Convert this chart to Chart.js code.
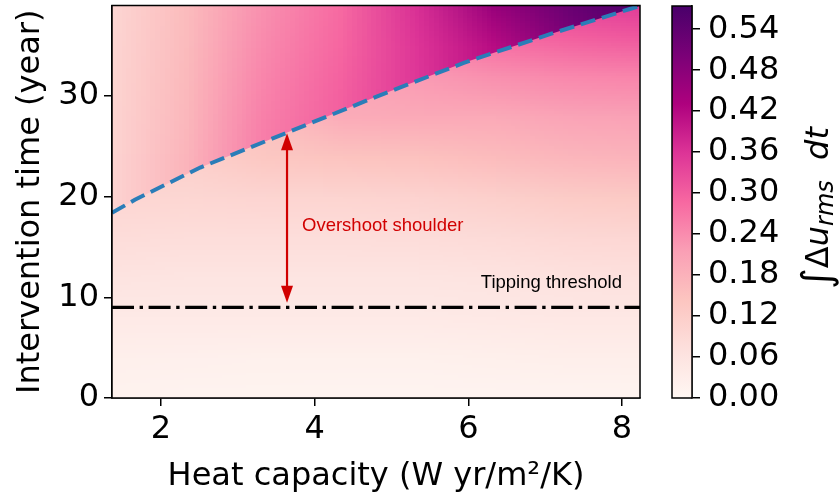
<!DOCTYPE html>
<html>
<head>
<meta charset="utf-8">
<script src="https://cdn.jsdelivr.net/npm/chart.js@4.4.1/dist/chart.umd.min.js"></script>
<style>
  html, body { margin: 0; padding: 0; background: #fff; }
  #wrap { position: relative; width: 840px; height: 497px; overflow: hidden; }
  #main-box { position: absolute; left: 0; top: 0; }
  #cbar-box { position: absolute; left: 640px; top: 0; }
</style>
</head>
<body>
<div id="wrap">
  <div id="main-box"><canvas id="main-chart" width="840" height="497"></canvas></div>
  <div id="cbar-box"><canvas id="cbar-chart" width="200" height="497"></canvas></div>
</div>
<script>
// axes
const xRange = [1.362, 8.234];
const yRange = [0, 39];
const xTicks = [2, 4, 6, 8];
const yTicks = [0, 10, 20, 30];
const cbarMax = 0.574;
const cbarTicks = [0, 0.06, 0.12, 0.18, 0.24, 0.30, 0.36, 0.42, 0.48, 0.54];

// heat map samples, rows listed from bottom to top
const heatX = [1.3, 2.3, 3.3, 4.3, 5.3, 6.3, 7.3, 8.3];
const belowY = [0, 4, 8, 12, 16, 20, 24, 28, 32, 36, 40];
const belowValues = [
  [0.012, 0.010, 0.009, 0.008, 0.008, 0.008, 0.008, 0.009],
  [0.023, 0.021, 0.020, 0.019, 0.019, 0.022, 0.025, 0.026],
  [0.040, 0.039, 0.040, 0.039, 0.039, 0.043, 0.046, 0.047],
  [0.060, 0.057, 0.056, 0.055, 0.055, 0.060, 0.066, 0.068],
  [0.080, 0.077, 0.076, 0.077, 0.080, 0.085, 0.092, 0.095],
  [0.097, 0.096, 0.100, 0.102, 0.105, 0.115, 0.125, 0.130],
  [0.110, 0.115, 0.135, 0.145, 0.150, 0.160, 0.172, 0.178],
  [0.120, 0.130, 0.150, 0.190, 0.195, 0.195, 0.205, 0.210],
  [0.130, 0.145, 0.170, 0.200, 0.220, 0.235, 0.245, 0.250],
  [0.140, 0.160, 0.190, 0.220, 0.250, 0.285, 0.300, 0.310],
  [0.150, 0.170, 0.210, 0.245, 0.280, 0.320, 0.345, 0.360],
];
const aboveY = [19, 23, 27, 31, 35, 39];
const aboveValues = [
  [0.100, 0.175, 0.260, 0.300, 0.355, 0.410, 0.495, 0.550],
  [0.100, 0.175, 0.260, 0.300, 0.355, 0.410, 0.495, 0.550],
  [0.100, 0.170, 0.257, 0.300, 0.355, 0.410, 0.495, 0.550],
  [0.098, 0.167, 0.250, 0.296, 0.355, 0.410, 0.495, 0.550],
  [0.097, 0.163, 0.243, 0.290, 0.357, 0.415, 0.495, 0.550],
  [0.095, 0.160, 0.235, 0.285, 0.365, 0.460, 0.525, 0.570],
];

// overshoot shoulder (dashed) and tipping threshold
const shoulderX = [1.362, 1.66, 2.51, 3.65, 4.79, 5.94, 7.08, 8.08, 8.234];
const shoulderY = [18.4, 19.7, 22.9, 26.4, 29.9, 33.3, 36.2, 38.6, 38.95];
const thresholdY = 9.0;
const arrowX = 3.64;
const arrowY = [9.47, 26.3];

const shoulderLabel = { text: 'Overshoot shoulder', x: 3.835, y: 17.1 };
const thresholdLabel = { text: 'Tipping threshold', x: 8.0, y: 11.4 };

const RED = '#d10000';
const rdpuStops = ['#fff7f3', '#fde0dd', '#fcc5c0', '#fa9fb5', '#f768a1', '#dd3497', '#ae017e', '#7a0177', '#49006a'];
const rdpuRgb = rdpuStops.map((h) => [1, 3, 5].map((k) => parseInt(h.slice(k, k + 2), 16)));

Chart.defaults.font.family = '"DejaVu Sans", sans-serif';
Chart.defaults.color = '#000';

function rdpu(v) {
  const t = Math.min(Math.max(v / cbarMax, 0), 1) * (rdpuRgb.length - 1);
  const i = Math.min(Math.floor(t), rdpuRgb.length - 2);
  const f = t - i;
  return rdpuRgb[i].map((c, k) => Math.round(c + (rdpuRgb[i + 1][k] - c) * f));
}

function fieldImage(values) {
  const rows = values.length;
  const cols = values[0].length;
  const off = document.createElement('canvas');
  off.width = cols;
  off.height = rows;
  const octx = off.getContext('2d');
  const img = octx.createImageData(cols, rows);
  values.forEach((row, r) => row.forEach((v, c) => {
    const i = ((rows - 1 - r) * cols + c) * 4;
    const rgb = rdpu(v);
    img.data[i] = rgb[0];
    img.data[i + 1] = rgb[1];
    img.data[i + 2] = rgb[2];
    img.data[i + 3] = 255;
  }));
  octx.putImageData(img, 0, 0);
  return off;
}

function drawField(chart, values, ys) {
  const { ctx, scales: { x, y } } = chart;
  const img = fieldImage(values);
  const x0 = x.getPixelForValue(heatX[0]);
  const x1 = x.getPixelForValue(heatX[heatX.length - 1]);
  const y0 = y.getPixelForValue(ys[ys.length - 1]);
  const y1 = y.getPixelForValue(ys[0]);
  ctx.imageSmoothingEnabled = true;
  ctx.imageSmoothingQuality = 'low';
  ctx.drawImage(img, 0.5, 0.5, img.width - 1, img.height - 1, x0, y0, x1 - x0, y1 - y0);
}

const heatPlugin = {
  id: 'heat',
  beforeDatasetsDraw(chart) {
    const { ctx, chartArea: a, scales: { x, y } } = chart;
    ctx.save();
    ctx.beginPath();
    ctx.rect(a.left, a.top, a.right - a.left, a.bottom - a.top);
    ctx.clip();
    drawField(chart, belowValues, belowY);

    // the field above the shoulder is cut along the dashed curve
    ctx.beginPath();
    shoulderX.forEach((v, i) => ctx.lineTo(x.getPixelForValue(v), y.getPixelForValue(shoulderY[i])));
    ctx.lineTo(a.right + 1, a.top - 1);
    ctx.lineTo(a.left - 1, a.top - 1);
    ctx.closePath();
    ctx.clip();
    drawField(chart, aboveValues, aboveY);
    ctx.restore();
  },
};

function drawHead(ctx, px, tip, dir) {
  ctx.beginPath();
  ctx.moveTo(px, tip);
  ctx.lineTo(px - 6, tip + dir * 17);
  ctx.lineTo(px + 6, tip + dir * 17);
  ctx.closePath();
  ctx.fill();
}

const notesPlugin = {
  id: 'notes',
  afterDatasetsDraw(chart) {
    const { ctx, chartArea: a, scales: { x, y } } = chart;
    const px = x.getPixelForValue(arrowX);
    const low = y.getPixelForValue(arrowY[0]);
    const high = y.getPixelForValue(arrowY[1]);
    ctx.save();
    ctx.strokeStyle = RED;
    ctx.fillStyle = RED;
    ctx.lineWidth = 2.2;
    ctx.beginPath();
    ctx.moveTo(px, low - 14);
    ctx.lineTo(px, high + 14);
    ctx.stroke();
    drawHead(ctx, px, low, -1);
    drawHead(ctx, px, high, 1);

    ctx.font = '18.5px "Liberation Sans", Arial, sans-serif';
    ctx.textBaseline = 'middle';
    ctx.textAlign = 'left';
    ctx.fillText(shoulderLabel.text, x.getPixelForValue(shoulderLabel.x), y.getPixelForValue(shoulderLabel.y));
    ctx.fillStyle = '#000';
    ctx.textAlign = 'right';
    ctx.fillText(thresholdLabel.text, x.getPixelForValue(thresholdLabel.x), y.getPixelForValue(thresholdLabel.y));

    ctx.strokeStyle = '#000';
    ctx.lineWidth = 1.5;
    ctx.strokeRect(a.left, a.top, a.right - a.left, a.bottom - a.top);
    ctx.restore();
  },
};

function fixTicks(list) {
  return (scale) => {
    scale.ticks = list.map((v) => ({ value: v }));
  };
}

function fitBox(size, horizontal) {
  return (scale) => {
    if (horizontal) scale.height = size;
    else scale.width = size;
    scale.paddingTop = 0;
    scale.paddingBottom = 0;
    scale.paddingLeft = 0;
    scale.paddingRight = 0;
  };
}

const axisGrid = { drawOnChartArea: false, drawTicks: true, tickLength: 8, color: '#000', lineWidth: 1.5 };
const axisBorder = { display: true, color: '#000', width: 1.5 };
const tickFont = { size: 32, lineHeight: 1.2 };

new Chart(document.getElementById('main-chart'), {
  type: 'scatter',
  data: {
    datasets: [
      {
        data: shoulderX.map((v, i) => ({ x: v, y: shoulderY[i] })),
        showLine: true,
        borderColor: '#2a7db8',
        borderWidth: 4,
        borderDash: [15, 7],
        pointRadius: 0,
        clip: 0,
      },
      {
        data: xRange.map((v) => ({ x: v, y: thresholdY })),
        showLine: true,
        borderColor: '#000',
        borderWidth: 3.3,
        borderDash: [22, 5.6, 3.4, 5.6],
        pointRadius: 0,
        clip: 0,
      },
    ],
  },
  options: {
    responsive: false,
    animation: false,
    devicePixelRatio: 1,
    events: [],
    layout: { padding: { left: 0, top: 5.5, right: 200, bottom: 0 } },
    plugins: { legend: { display: false }, tooltip: { enabled: false } },
    scales: {
      x: {
        type: 'linear',
        min: xRange[0],
        max: xRange[1],
        afterBuildTicks: fixTicks(xTicks),
        afterFit: fitBox(99, true),
        grid: axisGrid,
        border: axisBorder,
        ticks: { font: tickFont, padding: 4, maxRotation: 0, autoSkip: false },
        title: {
          display: true,
          text: 'Heat capacity (W yr/m²/K)',
          font: { size: 32, lineHeight: 1 },
          padding: { top: 0, bottom: 4 },
        },
      },
      y: {
        type: 'linear',
        min: yRange[0],
        max: yRange[1],
        afterBuildTicks: fixTicks(yTicks),
        afterFit: fitBox(112, false),
        grid: axisGrid,
        border: axisBorder,
        ticks: { font: tickFont, padding: 5, autoSkip: false },
        title: {
          display: true,
          text: 'Intervention time (year)',
          font: { size: 32, lineHeight: 1 },
          padding: { top: 15, bottom: 0 },
        },
      },
    },
  },
  plugins: [heatPlugin, notesPlugin],
});

function drawCbarLabel(ctx) {
  const parts = [
    ['∫', '40px "DejaVu Sans"', 2],
    ['Δ', '32px "DejaVu Sans"', 0],
    ['u', 'italic 32px "DejaVu Sans"', 0],
    ['rms', 'italic 24px "DejaVu Sans"', 5],
    ['  ', '32px "DejaVu Sans"', 0],
    ['dt', 'italic 32px "DejaVu Sans"', 0],
  ];
  let total = 0;
  parts.forEach((p) => {
    ctx.font = p[1];
    total += ctx.measureText(p[0]).width;
  });
  ctx.save();
  ctx.fillStyle = '#000';
  ctx.textBaseline = 'alphabetic';
  ctx.translate(188, 208 + total / 2);
  ctx.rotate(-Math.PI / 2);
  let cx = 0;
  parts.forEach(([t, f, dy]) => {
    ctx.font = f;
    ctx.fillText(t, cx, dy);
    cx += ctx.measureText(t).width;
  });
  ctx.restore();
}

const cbarPlugin = {
  id: 'cbar',
  beforeDatasetsDraw(chart) {
    const { ctx, chartArea: a } = chart;
    const grad = ctx.createLinearGradient(0, a.bottom, 0, a.top);
    rdpuStops.forEach((c, i) => grad.addColorStop(i / (rdpuStops.length - 1), c));
    ctx.save();
    ctx.fillStyle = grad;
    ctx.fillRect(a.left, a.top, a.right - a.left, a.bottom - a.top);
    ctx.strokeStyle = '#000';
    ctx.lineWidth = 1.5;
    ctx.strokeRect(a.left, a.top, a.right - a.left, a.bottom - a.top);
    ctx.restore();
  },
  afterDraw(chart) {
    drawCbarLabel(chart.ctx);
  },
};

new Chart(document.getElementById('cbar-chart'), {
  type: 'scatter',
  data: { datasets: [] },
  options: {
    responsive: false,
    animation: false,
    devicePixelRatio: 1,
    events: [],
    layout: { padding: { left: 32, top: 6, right: 0, bottom: 99 } },
    plugins: { legend: { display: false }, tooltip: { enabled: false } },
    scales: {
      x: { type: 'linear', display: false, min: 0, max: 1 },
      y: {
        type: 'linear',
        position: 'right',
        min: 0,
        max: cbarMax,
        afterBuildTicks: fixTicks(cbarTicks),
        afterFit: fitBox(148, false),
        grid: axisGrid,
        border: axisBorder,
        ticks: { font: tickFont, padding: 8, autoSkip: false, callback: (v) => v.toFixed(2) },
      },
    },
  },
  plugins: [cbarPlugin],
});
</script>
</body>
</html>
